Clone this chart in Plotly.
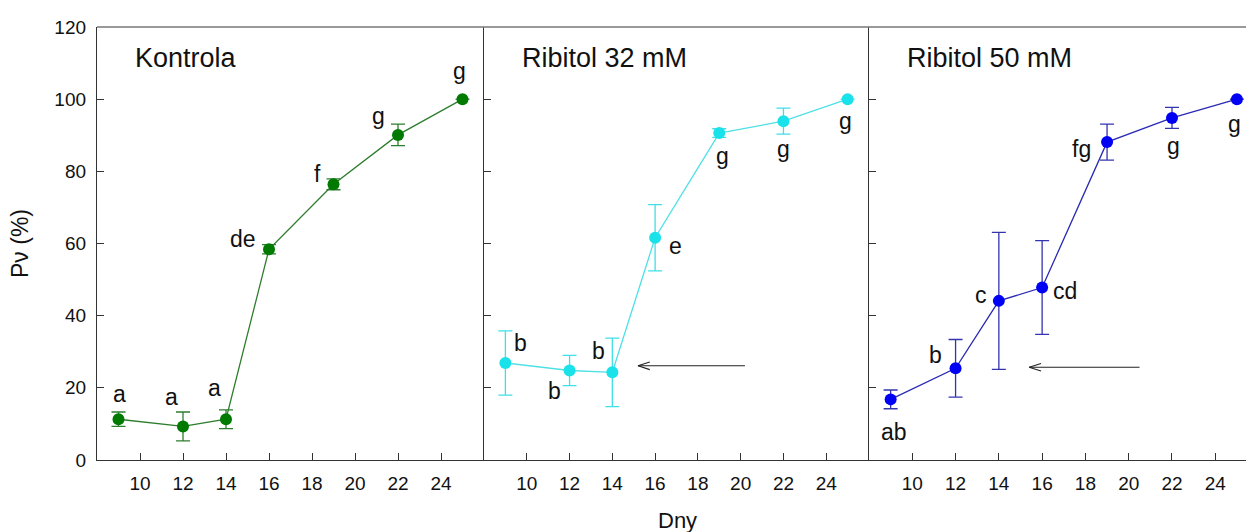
import plotly.graph_objects as go

W, H = 1246, 532

# ---------------- data ----------------
days = [9, 12, 14, 16, 19, 22, 25]

kontrola = [11.3, 9.3, 11.3, 58.4, 76.4, 90.1, 100.0]
kontrola_err = [2.0, 4.0, 2.6, 1.3, 1.5, 3.0, 0.0]

rib32 = [26.9, 24.8, 24.3, 61.6, 90.6, 93.9, 100.0]
rib32_err = [8.9, 4.2, 9.5, 9.2, 1.2, 3.6, 0.0]

rib50 = [16.8, 25.4, 44.1, 47.8, 88.1, 94.8, 100.0]
rib50_err = [2.6, 8.0, 19.0, 13.0, 5.0, 2.9, 0.0]

panel_titles = ["Kontrola", "Ribitol 32 mM", "Ribitol 50 mM"]

# letters: (text, x, y) per panel
letters_k = [("a", 9.03, 18.3), ("a", 11.47, 17.4), ("a", 13.47, 19.9),
             ("de", 14.8, 61.2), ("f", 18.26, 79.3), ("g", 21.1, 95.4),
             ("g", 24.87, 107.9)]
letters_32 = [("b", 9.69, 32.3), ("b", 11.28, 19.1), ("b", 13.33, 30.3),
              ("e", 16.94, 59.2), ("g", 19.14, 84.3), ("g", 21.98, 86.2),
              ("g", 24.9, 94.0)]
letters_50 = [("ab", 9.15, 7.8), ("b", 11.07, 29.1), ("c", 13.16, 45.8),
              ("cd", 17.06, 46.9), ("fg", 17.8, 86.3), ("g", 22.05, 87.1),
              ("g", 24.87, 93.1)]

# arrows (tail x, tip x, y) for panels 2 and 3
arrow_32 = (20.2, 15.2, 26.1)
arrow_50 = (20.5, 15.4, 25.7)

x_ticks = [10, 12, 14, 16, 18, 20, 22, 24]
y_ticks = [0, 20, 40, 60, 80, 100, 120]

# ---------------- styling ----------------
FONT = "Arial, Liberation Sans, sans-serif"
panels = [
    dict(y=kontrola, e=kontrola_err, mc="#007a00", lc="#2e7d2e", ec="#2e7d2e", letters=letters_k),
    dict(y=rib32, e=rib32_err, mc="#1ae2ea", lc="#4fe0e6", ec="#3fe0e8", letters=letters_32),
    dict(y=rib50, e=rib50_err, mc="#0000f5", lc="#2a2ab4", ec="#3434b0", letters=letters_50),
]

yb = (H - 460) / H
yt = (H - 27) / H
domains = [[97 / W, 484 / W], [484 / W, 869 / W], [869 / W, 1.0]]
xranges = [[8, 26], [8, 26], [8, 25.42]]

fig = go.Figure()
annotations = []

for i, p in enumerate(panels):
    xa = "x" if i == 0 else f"x{i+1}"
    ya = "y" if i == 0 else f"y{i+1}"
    fig.add_trace(go.Scatter(
        x=days, y=p["y"], mode="lines+markers",
        line=dict(color=p["lc"], width=1.3),
        marker=dict(color=p["mc"], size=12),
        error_y=dict(type="data", array=p["e"], visible=True,
                     color=p["ec"], thickness=1.3, width=7),
        xaxis=xa, yaxis=ya, showlegend=False, hoverinfo="skip"))
    for (t, lx, ly) in p["letters"]:
        annotations.append(dict(text=t, x=lx, y=ly, xref=xa, yref=ya,
                                showarrow=False, xanchor="center", yanchor="middle",
                                font=dict(family=FONT, size=23, color="#111")))
    annotations.append(dict(text=panel_titles[i], x=9.68, y=111.4, xref=xa, yref=ya,
                            showarrow=False, xanchor="left", yanchor="middle",
                            font=dict(family=FONT, size=27, color="#111")))

    common_x = dict(domain=domains[i], range=xranges[i], showline=True,
                    linecolor="#333", linewidth=1.3, ticks="inside", ticklen=7,
                    tickwidth=1.2, tickcolor="#333", tickvals=x_ticks,
                    tickfont=dict(family=FONT, size=19, color="#111"),
                    showgrid=False, zeroline=False, anchor=ya,
                    ticklabelstandoff=6, automargin=False)
    common_y = dict(domain=[yb, yt], range=[0, 120], showline=True,
                    linecolor="#333", linewidth=1.3, ticks="inside", ticklen=7,
                    tickwidth=1.2, tickcolor="#333", tickvals=y_ticks,
                    showticklabels=(i == 0),
                    tickfont=dict(family=FONT, size=19, color="#111"),
                    showgrid=False, zeroline=False, anchor=xa,
                    ticklabelstandoff=6, automargin=False)
    key = "" if i == 0 else str(i + 1)
    fig.update_layout(**{f"xaxis{key}": common_x, f"yaxis{key}": common_y})

# arrows drawn as open "<" arrows
for (tail, tip, ay), xa, ya in [(arrow_32, "x2", "y2"), (arrow_50, "x3", "y3")]:
    dx, dy = 0.55, 1.05
    fig.add_trace(go.Scatter(
        x=[tail, tip, None, tip + dx, tip, tip + dx],
        y=[ay, ay, None, ay + dy, ay, ay - dy],
        mode="lines", line=dict(color="#222", width=1.1),
        xaxis=xa, yaxis=ya, showlegend=False, hoverinfo="skip"))

# top border line
shapes = [dict(type="line", xref="paper", yref="paper", x0=97 / W, x1=1.0,
               y0=yt, y1=yt, line=dict(color="#777", width=1.5))]

annotations.append(dict(text="Pν (%)", x=20 / W, y=(H - 243) / H, xref="paper", yref="paper",
                        textangle=-90, showarrow=False, xanchor="center", yanchor="middle",
                        font=dict(family=FONT, size=23, color="#111")))
annotations.append(dict(text="Dny", x=677 / W, y=(H - 520) / H, xref="paper", yref="paper",
                        showarrow=False, xanchor="center", yanchor="middle",
                        font=dict(family=FONT, size=22, color="#111")))

fig.update_layout(template="none", width=W, height=H,
                  margin=dict(l=0, r=0, t=0, b=0, pad=0, autoexpand=False),
                  paper_bgcolor="white", plot_bgcolor="white",
                  annotations=annotations, shapes=shapes)

fig.write_html("out.html")
